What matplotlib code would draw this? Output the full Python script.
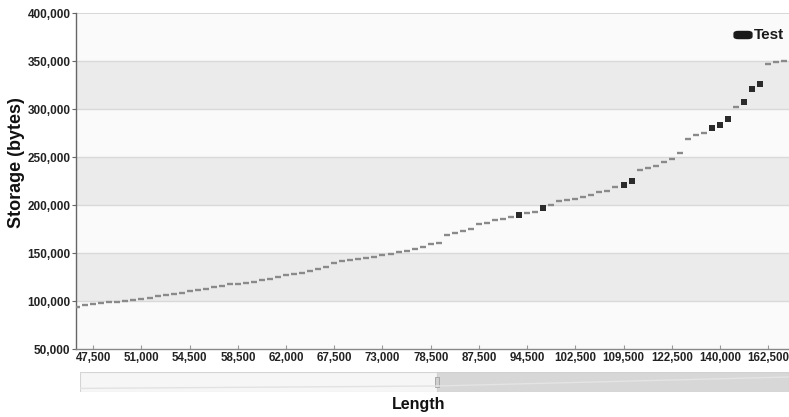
import numpy as np
import matplotlib.pyplot as plt
from matplotlib.patches import Rectangle, FancyBboxPatch

plt.rcParams['font.family'] = ['Liberation Sans', 'DejaVu Sans']

# storage (bytes) for each length category
storage = [94100, 95800, 96900, 97900, 98600, 99300, 100000, 101000, 102100, 103400,
           104900, 105900, 107300, 108300, 110100, 111400, 112800, 114300, 116000, 117400,
           117700, 119000, 120100, 121900, 123200, 124700, 127100, 128100, 129500, 131200,
           133000, 135700, 139300, 141700, 142700, 143800, 144800, 145800, 147600, 149300,
           150700, 152400, 154500, 156600, 159100, 160700, 168700, 171200, 172600, 175300,
           179900, 180900, 184400, 185700, 187200, 189300, 191400, 192700, 196900, 200000,
           204200, 205200, 205900, 208000, 210400, 213200, 214900, 218700, 220800, 225000,
           236500, 238200, 240600, 245100, 247900, 253800, 268400, 272900, 275300, 280200,
           283600, 289300, 301800, 307000, 321100, 326000, 346900, 348600, 350000]

# points drawn darker / bigger in the original
dark_points = [55, 58, 68, 69, 79, 80, 81, 83, 84, 85]

# only every 6th category carries a label
tick_labels = ['47,500', '51,000', '54,500', '58,500', '62,000', '67,500', '73,000',
               '78,500', '87,500', '94,500', '102,500', '109,500', '122,500',
               '140,000', '162,500']
first_tick = 2
tick_step = 6

y_ticks = [50000, 100000, 150000, 200000, 250000, 300000, 350000, 400000]

fig = plt.figure(figsize=(7.89, 4.17), dpi=100)
ax = fig.add_axes([76 / 789, 1 - 349 / 417, 713 / 789, 336 / 417])

# alternating bands
for lo in range(50000, 400000, 50000):
    shade = '#ebebeb' if (lo // 50000) % 2 == 0 else '#fafafa'
    ax.axhspan(lo, lo + 50000, color=shade, lw=0, zorder=0)
for y in y_ticks[1:-1]:
    ax.axhline(y, color='#d9d9d9', lw=1, zorder=1)
ax.axhline(400000, color='#d0d0d0', lw=1.2, zorder=1)

idx = np.arange(len(storage))
vals = np.array(storage)
dark = np.zeros(len(storage), dtype=bool)
dark[dark_points] = True

ax.plot(idx[~dark], vals[~dark], ls='none', marker='_', ms=4.3, mew=1.7,
        color='#8a8a8a', zorder=3)
ax.plot(idx[dark], vals[dark], ls='none', marker='s', ms=3.9, mew=0,
        color='#2b2b2b', zorder=3)

ax.set_xlim(-0.15, 88.6)
ax.set_ylim(50000, 400000)

ax.set_yticks(y_ticks)
ax.set_yticklabels([f'{v:,}' for v in y_ticks])
ax.set_xticks(range(first_tick, first_tick + tick_step * len(tick_labels), tick_step))
ax.set_xticklabels(tick_labels)

ax.tick_params(axis='y', length=3, width=0.8, color='#666666', pad=1,
               labelsize=8.5, labelcolor='#222222')
ax.tick_params(axis='x', direction='in', length=3, width=0.8, color='#999999',
               pad=2, labelsize=8.3, labelcolor='#222222')
for lab in ax.get_xticklabels() + ax.get_yticklabels():
    lab.set_fontweight('bold')

for s in ['top', 'right']:
    ax.spines[s].set_visible(False)
ax.spines['left'].set_color('#666666')
ax.spines['left'].set_linewidth(1)
ax.spines['bottom'].set_color('#888888')
ax.spines['bottom'].set_linewidth(1)

# legend, top right
ax.add_patch(FancyBboxPatch((0.925, 0.926), 0.021, 0.017, transform=ax.transAxes,
                            boxstyle='round,pad=0.002,rounding_size=0.006',
                            fc='#1a1a1a', ec='#1a1a1a', clip_on=False, zorder=5))
ax.text(0.951, 0.935, 'Test', transform=ax.transAxes, fontsize=11, fontweight='bold',
        color='#1a1a1a', va='center', ha='left', zorder=5)

# axis titles
fig.text(17 / 789, 1 - 163 / 417, 'Storage (bytes)', rotation=90, fontsize=13,
         fontweight='bold', color='#111111', ha='center', va='center')
fig.text(419 / 789, 1 - 405 / 417, 'Length', fontsize=11.5, fontweight='bold',
         color='#111111', ha='center', va='center')

# range slider below the axis
sl = fig.add_axes([80 / 789, 1 - 392 / 417, 709 / 789, 20 / 417])
sl.set_xlim(0, 1)
sl.set_ylim(0, 1)
sl.axis('off')
split = (437 - 80) / 709
sl.add_patch(Rectangle((0, 0), split, 1, fc='#f6f6f6', ec='#d4d4d4', lw=0.8))
sl.plot([0, split], [0.18, 0.3], color='#e2e2e2', lw=1)
sl.add_patch(Rectangle((split, 0), 1 - split, 1, fc='#d7d7d7', ec='#d0d0d0', lw=0.8))
sl.plot([split, 1], [0.3, 0.75], color='#e4e4e4', lw=1)
sl.add_patch(Rectangle((split - 0.003, 0.25), 0.006, 0.5, fc='#cfcfcf', ec='#a8a8a8', lw=0.7))

fig.savefig('out.png', dpi=100)
